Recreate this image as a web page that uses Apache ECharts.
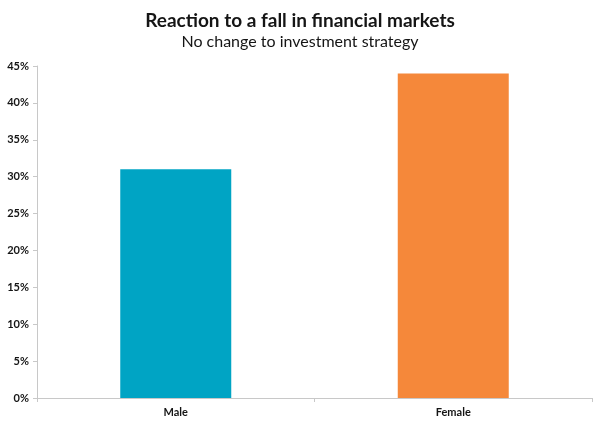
<!DOCTYPE html>
<html>
<head>
<meta charset="utf-8">
<script src="https://cdn.jsdelivr.net/npm/echarts@6/dist/echarts.min.js"></script>
<style>
  html, body { margin: 0; padding: 0; background: #fff; }
  #chart { width: 600px; height: 428px; }
</style>
</head>
<body>
<div id="chart"></div>
<script>
// data
const categories = ['Male', 'Female'];
const values = [31, 44];
const barColors = ['#00a4c4', '#f5883a'];

const myChart = echarts.init(document.getElementById('chart'));

let option = {
    animation: false,
    title: {
        text: 'Reaction to a fall in financial markets',
        subtext: 'No change to investment strategy',
        left: 'center',
        top: 6,
        itemGap: 4,
        textStyle: { fontFamily: 'Lato', fontWeight: 'bold', fontSize: 19, color: '#151515' },
        subtextStyle: { fontFamily: 'Lato', fontSize: 16, color: '#151515' }
    },
    grid: { left: 37, right: 8, top: 66, bottom: 30 },
    xAxis: {
        type: 'category',
        data: categories,
        axisLine: { lineStyle: { color: '#c8c8c8' } },
        axisTick: { show: true, length: 4, lineStyle: { color: '#c8c8c8' } },
        axisLabel: { fontFamily: 'Lato', fontWeight: 'bold', fontSize: 11, color: '#151515', margin: 9 }
    },
    yAxis: {
        type: 'value',
        min: 0,
        max: 45,
        interval: 5,
        splitLine: { show: false },
        axisLine: { show: true, lineStyle: { color: '#c8c8c8' } },
        axisTick: { show: true, length: 4, lineStyle: { color: '#c8c8c8' } },
        axisLabel: { fontFamily: 'Lato', fontWeight: 'bold', fontSize: 11, color: '#151515', margin: 8, formatter: '{value}%' }
    },
    series: [{
        type: 'bar',
        barWidth: '40%',
        data: values.map((v, i) => ({ value: v, itemStyle: { color: barColors[i] } }))
    }]
};

myChart.setOption(option);
</script>
</body>
</html>
